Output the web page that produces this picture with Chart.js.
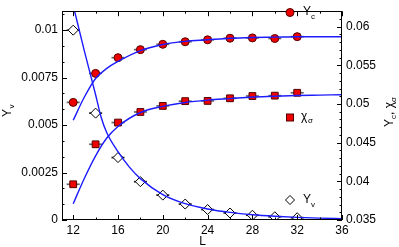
<!DOCTYPE html>
<html><head><meta charset="utf-8">
<script src="https://cdn.jsdelivr.net/npm/chart.js@4"></script>
<style>html,body{margin:0;padding:0;background:#fff}#wrap{width:399px;height:247px}</style>
</head><body><div id="wrap"><canvas id="c" width="399" height="247"></canvas></div>
<script>
// Data points
const L = [12,14,16,18,20,22,24,26,28,30,32];
const Yv = [0.0100,0.00563,0.00329,0.00202,0.00131,0.00084,0.00055,0.00037,0.00025,0.00017,0.00012];
const Yc = [0.05021,0.05396,0.05599,0.05703,0.05772,0.05805,0.0583,0.05851,0.05855,0.05847,0.05871];
const chiSigma = [0.03962,0.04479,0.0476,0.04897,0.04975,0.05037,0.0504,0.05074,0.05103,0.05108,0.05145];
// Fit curves
const fitL = [12,13,14,15,16,18,20,22,24,26,28,30,32,34,36];
const YcFit = [0.0479,0.0509,0.0533,0.0546,0.0555,0.0569,0.0577,0.0581,0.0583,0.0585,0.0586,0.05865,0.0587,0.0587,0.0587];
const chiFit = [0.0371,0.0404,0.0433,0.0456,0.0471,0.0489,0.0497,0.0502,0.0505,0.0507,0.0509,0.0510,0.0511,0.05115,0.0512];
const YvFitL = [12,13,14,14.5,15,16,17,18,20,22,24,26,28,30,32,34,36];
const YvFit = [0.0113,0.0089,0.0066,0.0054,0.0046,0.0036,0.0028,0.00218,0.00134,0.00086,0.00058,0.0004,0.00028,0.0002,0.00014,0.0001,0.00007];
// Ticks
const xTicks = [12,16,20,24,28,32,36];
const yLeftTicks = [0,0.0025,0.005,0.0075,0.01];
const yRightTicks = [0.035,0.04,0.045,0.05,0.055,0.06];

const FONT = 'Liberation Sans, Arial, sans-serif';
const pts = (xs, ys) => xs.map((x,i)=>({x:x, y:ys[i]}));

const decor = {
  id:'decor',
  beforeDatasetsDraw(chart){
    const ctx = chart.ctx;
    [3,4,5].forEach(di=>{
      const meta = chart.getDatasetMeta(di);
      ctx.save();
      ctx.strokeStyle = di===5 ? '#222' : '#666';
      ctx.lineWidth = 1.7;
      meta.data.forEach(el=>{
        ctx.beginPath();
        ctx.moveTo(el.x-6.5, el.y); ctx.lineTo(el.x+6.5, el.y);
        ctx.stroke();
      });
      ctx.restore();
    });
  },
  afterDraw(chart){
    const ctx = chart.ctx;
    const a = chart.chartArea;
    const sx = chart.scales.x, sy = chart.scales.y, sy2 = chart.scales.y2;
    ctx.save();
    ctx.strokeStyle = '#000';
    ctx.lineWidth = 1;
    ctx.strokeRect(Math.round(a.left)+0.5, Math.round(a.top)+0.5, Math.round(a.right-a.left)-1, Math.round(a.bottom-a.top)-1);
    ctx.beginPath();
    for (let v=12; v<=36; v+=2){
      const px = Math.round(sx.getPixelForValue(v))+0.5;
      const len = xTicks.includes(v) ? 5 : 2.5;
      ctx.moveTo(px, a.bottom); ctx.lineTo(px, a.bottom-len);
      ctx.moveTo(px, a.top); ctx.lineTo(px, a.top+len);
    }
    for (let k=0; k<=13; k++){
      const v = k*0.0025/3;
      const py = Math.round(sy.getPixelForValue(v))+0.5;
      const len = (k%3===0) ? 5 : 2.5;
      ctx.moveTo(a.left, py); ctx.lineTo(a.left+len, py);
    }
    for (let k=0; k<=27; k++){
      const v = 0.035 + k*0.001;
      const py = Math.round(sy2.getPixelForValue(v))+0.5;
      const len = (k%5===0) ? 5 : 2.5;
      ctx.moveTo(a.right, py); ctx.lineTo(a.right-len, py);
    }
    ctx.stroke();

    ctx.fillStyle = '#000';
    ctx.textBaseline = 'alphabetic';
    ctx.font = '12px ' + FONT;
    ctx.textAlign = 'center';
    ctx.fillText('L', 202.5, 245);
    ctx.textAlign = 'left';
    ctx.save();
    ctx.translate(10.5, 117);
    ctx.rotate(-Math.PI/2);
    ctx.font = '12px ' + FONT;
    ctx.fillText('Y', 0, 0);
    let w = ctx.measureText('Y').width;
    ctx.font = '8px ' + FONT;
    ctx.fillText('v', w+0.5, 3);
    ctx.restore();
    ctx.save();
    ctx.translate(393, 127);
    ctx.rotate(-Math.PI/2);
    let xx = 0;
    const seg = (t, f, dy) => { ctx.font = f + 'px ' + FONT; ctx.fillText(t, xx, dy); xx += ctx.measureText(t).width; };
    seg('Y',12,0); seg('c',8,3); seg(', ',12,0); seg('\u03C7',12,0); seg('\u03C3',8,3);
    ctx.restore();

    // legend
    ctx.beginPath(); ctx.arc(290, 12.5, 4, 0, Math.PI*2);
    ctx.fillStyle = '#ee0000'; ctx.fill(); ctx.strokeStyle = '#500'; ctx.stroke();
    ctx.fillStyle = '#000';
    ctx.font = '12px ' + FONT; ctx.fillText('Y', 303, 15);
    ctx.font = '8px ' + FONT; ctx.fillText('c', 311, 19);
    ctx.fillStyle = '#ee0000'; ctx.fillRect(286.5, 114, 7, 7);
    ctx.strokeStyle = '#500'; ctx.strokeRect(286.5, 114, 7, 7);
    ctx.fillStyle = '#000';
    ctx.font = '12px ' + FONT; ctx.fillText('\u03C7', 301, 120);
    ctx.font = '8px ' + FONT; ctx.fillText('\u03C3', 308, 123);
    ctx.beginPath();
    ctx.moveTo(290, 195.5); ctx.lineTo(294.5, 200); ctx.lineTo(290, 204.5); ctx.lineTo(285.5, 200); ctx.closePath();
    ctx.fillStyle = '#fff'; ctx.fill(); ctx.strokeStyle = '#000'; ctx.stroke();
    ctx.fillStyle = '#000';
    ctx.font = '12px ' + FONT; ctx.fillText('Y', 303, 203);
    ctx.font = '8px ' + FONT; ctx.fillText('v', 311, 207);
    ctx.restore();
  }
};

const fitStyle = {borderColor:'#1c1cff', borderWidth:1.4, pointRadius:0, fill:false, showLine:true, cubicInterpolationMode:'monotone'};

new Chart(document.getElementById('c').getContext('2d'), {
  type:'scatter',
  data:{datasets:[
    Object.assign({label:'Yc fit', data:pts(fitL, YcFit), yAxisID:'y2'}, fitStyle),
    Object.assign({label:'chi fit', data:pts(fitL, chiFit), yAxisID:'y2'}, fitStyle),
    Object.assign({label:'Yv fit', data:pts(YvFitL, YvFit), yAxisID:'y'}, fitStyle),
    {label:'Yc', data:pts(L, Yc), yAxisID:'y2', showLine:false, pointStyle:'circle', pointRadius:4, pointBackgroundColor:'#ee0000', pointBorderColor:'#500', pointBorderWidth:1},
    {label:'chi', data:pts(L, chiSigma), yAxisID:'y2', showLine:false, pointStyle:'rect', pointRadius:4.8, pointBackgroundColor:'#ee0000', pointBorderColor:'#500', pointBorderWidth:1},
    {label:'Yv', data:pts(L, Yv), yAxisID:'y', showLine:false, pointStyle:'rectRot', pointRadius:5, pointBackgroundColor:'#fff', pointBorderColor:'#000', pointBorderWidth:1}
  ]},
  options:{
    animation:false, responsive:false, devicePixelRatio:1,
    layout:{padding:{top:1,left:0,right:0,bottom:0}},
    plugins:{legend:{display:false}, tooltip:{enabled:false}, title:{display:false}},
    scales:{
      x:{type:'linear', position:'bottom', min:11, max:36,
        afterBuildTicks:s=>{s.ticks = xTicks.map(v=>({value:v}));},
        afterFit:s=>{s.height=27;},
        grid:{display:false, drawTicks:false}, border:{display:false},
        ticks:{autoSkip:false, maxRotation:0, padding:3, color:'#000', font:{family:FONT, size:12}}},
      y:{type:'linear', position:'left', min:0, max:0.011,
        afterBuildTicks:s=>{s.ticks = yLeftTicks.map(v=>({value:v}));},
        afterFit:s=>{s.width=62;},
        grid:{display:false, drawTicks:false}, border:{display:false},
        ticks:{autoSkip:false, padding:4, color:'#000', font:{family:FONT, size:12}, callback:v=>String(v)}},
      y2:{type:'linear', position:'right', min:0.035, max:0.062,
        afterBuildTicks:s=>{s.ticks = yRightTicks.map(v=>({value:v}));},
        afterFit:s=>{s.width=57;},
        grid:{display:false, drawTicks:false}, border:{display:false},
        ticks:{autoSkip:false, padding:4, color:'#000', font:{family:FONT, size:12}, callback:v=>String(v)}}
    }
  },
  plugins:[decor]
});
</script>
</body></html>
